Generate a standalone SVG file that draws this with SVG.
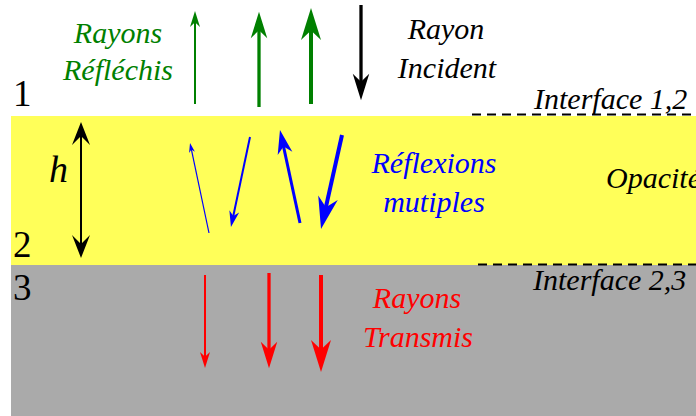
<svg xmlns="http://www.w3.org/2000/svg" width="696" height="416" viewBox="0 0 696 416">
<style>
.lbl{font-family:"Liberation Serif","Times New Roman",serif;font-style:italic;font-size:30px}
.num{font-family:"Liberation Serif","Times New Roman",serif;font-size:37px;fill:#000}
.big{font-size:38px}
.mid{text-anchor:middle}
.ray{fill:none;stroke-linecap:butt}
.dash{stroke:#000;stroke-width:2;stroke-dasharray:9 6;fill:none}
</style>
<defs>
<marker id="head" markerUnits="strokeWidth" markerWidth="8" markerHeight="5" refX="4" refY="0" orient="auto" overflow="visible">
<path d="M8,0 L0,2.5 L2.4,0 L0,-2.5 Z" fill="context-stroke"/>
</marker>
<marker id="hhead" markerUnits="userSpaceOnUse" markerWidth="23" markerHeight="18" refX="13" refY="0" orient="auto-start-reverse" overflow="visible">
<path d="M23,0 L0,9 L9,0 L0,-9 Z" fill="#000"/>
</marker>
</defs>
<g id="layers">
<rect id="layer2" x="11" y="116" width="685" height="149" fill="#ffff59"/>
<rect id="layer3" x="11" y="265" width="685" height="151" fill="#aaaaaa"/>
</g>
<g id="interfaces">
<line class="dash" x1="472" y1="114.5" x2="692" y2="114.5"/>
<line class="dash" x1="478" y1="264.5" x2="696" y2="264.5"/>
</g>
<g id="connectors">
<g id="reflected" stroke="#008000">
<line class="ray" x1="195" y1="104" x2="195" y2="19" stroke-width="2" marker-end="url(#head)"/>
<line class="ray" x1="259" y1="107" x2="259" y2="25" stroke-width="3.3" marker-end="url(#head)"/>
<line class="ray" x1="311" y1="104" x2="311" y2="24" stroke-width="4" marker-end="url(#head)"/>
</g>
<g id="incident" stroke="#000">
<line class="ray" x1="361" y1="5" x2="361" y2="87" stroke-width="3.3" marker-end="url(#head)"/>
</g>
<g id="multiple" stroke="#0000ff">
<line class="ray" x1="209" y1="233" x2="191" y2="147.7" stroke-width="1.2" marker-end="url(#head)"/>
<line class="ray" x1="250" y1="137" x2="232.6" y2="219.2" stroke-width="2" marker-end="url(#head)"/>
<line class="ray" x1="300" y1="223" x2="282.5" y2="141.7" stroke-width="3" marker-end="url(#head)"/>
<line class="ray" x1="342" y1="135" x2="324.5" y2="213.4" stroke-width="4" marker-end="url(#head)"/>
</g>
<g id="transmitted" stroke="#ff0000">
<line class="ray" x1="205" y1="275" x2="205" y2="360" stroke-width="2" marker-end="url(#head)"/>
<line class="ray" x1="269" y1="273" x2="269" y2="355" stroke-width="3.3" marker-end="url(#head)"/>
<line class="ray" x1="321" y1="275" x2="321" y2="356" stroke-width="4" marker-end="url(#head)"/>
</g>
<g id="thickness">
<line class="ray" x1="81" y1="132" x2="81" y2="248" stroke="#000" stroke-width="2" marker-start="url(#hhead)" marker-end="url(#hhead)"/>
</g>
</g>
<g id="labels">
<g id="label-reflected" fill="#008000">
<text class="lbl mid" x="118" y="43">Rayons</text>
<text class="lbl mid" x="118" y="80">Réfléchis</text>
</g>
<g id="label-incident" fill="#000">
<text class="lbl mid" x="446" y="39">Rayon</text>
<text class="lbl mid" x="447" y="78">Incident</text>
</g>
<g id="label-multiple" fill="#0000ff">
<text class="lbl mid" x="434" y="173">Réflexions</text>
<text class="lbl mid" x="434" y="212">mutiples</text>
</g>
<g id="label-transmitted" fill="#ff0000">
<text class="lbl mid" x="417" y="308">Rayons</text>
<text class="lbl mid" x="418" y="347">Transmis</text>
</g>
<g id="label-interfaces" fill="#000">
<text class="lbl" x="534" y="109">Interface 1,2</text>
<text class="lbl" x="533" y="290">Interface 2,3</text>
<text class="lbl" x="606" y="188">Opacité</text>
<text class="lbl big" x="49" y="182">h</text>
</g>
<g id="media">
<text class="num" x="13" y="106">1</text>
<text class="num" x="13" y="257">2</text>
<text class="num" x="13" y="300">3</text>
</g>
</g>
</svg>
